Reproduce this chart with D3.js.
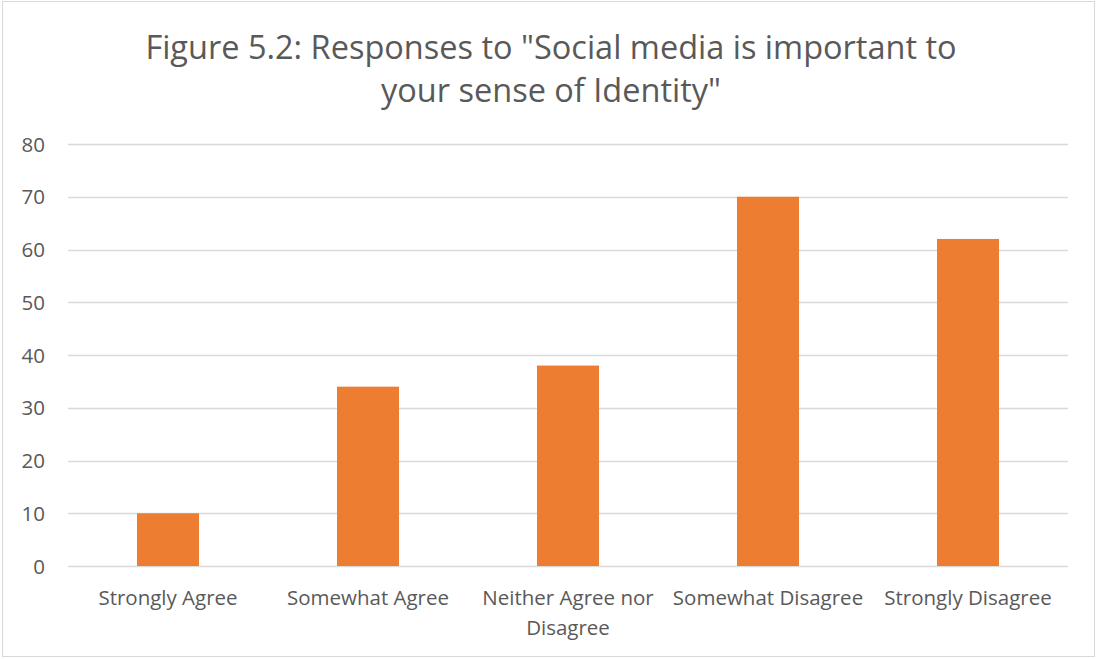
<!DOCTYPE html>
<html>
<head>
<meta charset="utf-8">
<script src="https://cdn.jsdelivr.net/npm/d3@7"></script>
<style>
  html, body { margin: 0; padding: 0; background: #fff; }
  svg { display: block; }
  text { font-family: "Open Sans", sans-serif; fill: #595959; }
</style>
</head>
<body>
<svg id="chart" width="1098" height="659"></svg>
<script>
const titleLines = ['Figure 5.2: Responses to "Social media is important to', 'your sense of Identity"'];
const categories = ["Strongly Agree", "Somewhat Agree", "Neither Agree nor Disagree", "Somewhat Disagree", "Strongly Disagree"];
const values = [10, 34, 38, 70, 62];
const yTicks = [0, 10, 20, 30, 40, 50, 60, 70, 80];

const W = 1098, H = 659;
const FONT = '"Open Sans", sans-serif';
const margin = { left: 68, right: 30, top: 144, bottom: 93 };
const svg = d3.select("#chart");

svg.append("rect").attr("x", 2.5).attr("y", 1.5).attr("width", W - 6).attr("height", H - 4)
  .attr("fill", "#fff").attr("stroke", "#d9d9d9").attr("stroke-width", 1);

const x = d3.scaleBand().domain(categories).range([margin.left, W - margin.right]).paddingInner(0.69).paddingOuter(0.345);
const y = d3.scaleLinear().domain([0, 80]).range([H - margin.bottom, margin.top]);

// gridlines
svg.append("g").selectAll("line").data(yTicks).join("line")
  .attr("x1", margin.left).attr("x2", W - margin.right)
  .attr("y1", d => Math.round(y(d)) + 0.5).attr("y2", d => Math.round(y(d)) + 0.5)
  .attr("stroke", "#d9d9d9").attr("stroke-width", 1.3);

// y axis labels
const yAxis = d3.axisLeft(y).tickValues(yTicks).tickSize(0).tickPadding(0);
const gy = svg.append("g").attr("transform", `translate(${margin.left - 23},0)`).call(yAxis);
gy.select(".domain").remove();
gy.selectAll("text").style("font-size", "20.5px").style("font-family", FONT).attr("fill", "#595959").attr("dy", "0.35em");

// bars
svg.append("g").selectAll("rect").data(values).join("rect")
  .attr("x", (d, i) => x(categories[i]))
  .attr("width", x.bandwidth())
  .attr("y", d => y(d))
  .attr("height", d => y(0) - y(d))
  .attr("fill", "#ed7d31");

// x axis labels
const xAxis = d3.axisBottom(x).tickSize(0).tickPadding(0);
const gx = svg.append("g").attr("transform", `translate(0,${y(0)})`).call(xAxis);
gx.select(".domain").remove();
gx.selectAll("text").style("font-size", "20.5px").style("font-family", FONT).attr("fill", "#595959")
  .attr("y", 39).attr("dy", 0)
  .each(function(d) {
    const t = d3.select(this);
    const words = d.split(" ");
    t.text(null);
    let line = [], lineNo = 0;
    let tspan = t.append("tspan").attr("x", 0).attr("y", 39);
    for (const w of words) {
      line.push(w);
      tspan.text(line.join(" "));
      if (tspan.node().getComputedTextLength() > 215 && line.length > 1) {
        line.pop();
        tspan.text(line.join(" "));
        line = [w];
        lineNo++;
        tspan = t.append("tspan").attr("x", 0).attr("y", 39 + lineNo * 30).text(w);
      }
    }
  });

// title
svg.append("g").selectAll("text").data(titleLines).join("text")
  .attr("x", 551).attr("y", (d, i) => 59 + i * 43)
  .attr("text-anchor", "middle")
  .style("font-size", "32.5px")
  .style("font-family", FONT)
  .text(d => d);
</script>
</body>
</html>
